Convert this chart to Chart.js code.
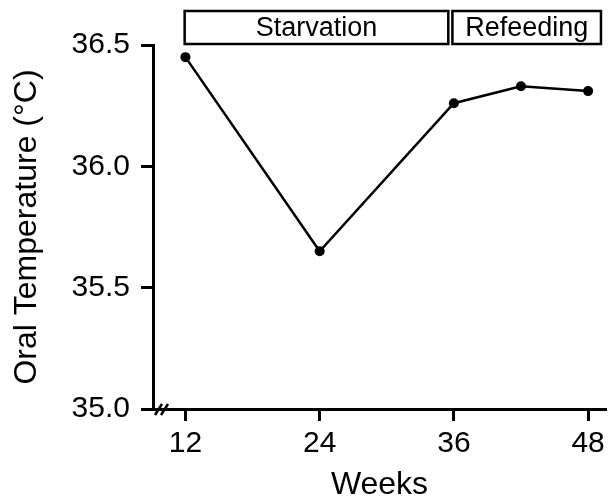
<!DOCTYPE html>
<html>
<head>
<meta charset="utf-8">
<script src="https://cdn.jsdelivr.net/npm/chart.js@4.4.1/dist/chart.umd.min.js"></script>
<style>
  html, body { margin: 0; padding: 0; background: #fff; }
  #wrap { width: 611px; height: 498px; }
</style>
</head>
<body>
<div id="wrap"><canvas id="tempChart" width="611" height="498"></canvas></div>
<script>
// data
var weeks = [12, 24, 36, 42, 48];
var oralTemp = [36.45, 35.65, 36.26, 36.33, 36.31];
var xTicks = [12, 24, 36, 48];
var yTicks = [35.0, 35.5, 36.0, 36.5];
var phaseNames = ['Starvation', 'Refeeding'];
var phaseStart = [11.93, 35.87];   // weeks
var phaseEnd = [35.5, 49.15];

var FONT = '"Liberation Sans", Arial, Helvetica, sans-serif';

// boxes above the plot + the axis break mark
var phaseBoxes = {
  id: 'phaseBoxes',
  afterDraw: function(chart) {
    var ctx = chart.ctx;
    var xs = chart.scales.x;
    var area = chart.chartArea;
    ctx.save();
    ctx.strokeStyle = '#000';
    ctx.lineWidth = 2.5;
    ctx.fillStyle = '#000';
    ctx.font = '27px ' + FONT;
    ctx.textAlign = 'center';
    ctx.textBaseline = 'middle';
    for (var i = 0; i < phaseNames.length; i++) {
      var x1 = xs.getPixelForValue(phaseStart[i]);
      var x2 = xs.getPixelForValue(phaseEnd[i]);
      var top = area.top - 34, h = 33;
      ctx.strokeRect(x1, top, x2 - x1, h);
      ctx.fillText(phaseNames[i], (x1 + x2) / 2, top + h / 2 + 1);
    }
    // axis break "//"
    var bx = area.left, by = area.bottom;
    ctx.lineWidth = 2.5;
    for (var k = 0; k < 2; k++) {
      ctx.beginPath();
      ctx.moveTo(bx + 2 + k * 6, by + 6);
      ctx.lineTo(bx + 9 + k * 6, by - 5);
      ctx.stroke();
    }
    ctx.restore();
  }
};

var ctx = document.getElementById('tempChart');

new Chart(ctx, {
  type: 'line',
  data: {
    datasets: [{
      label: 'Oral Temperature',
      data: weeks.map(function(w, i) { return { x: w, y: oralTemp[i] }; }),
      borderColor: '#000',
      backgroundColor: '#000',
      borderWidth: 2.5,
      pointRadius: 5,
      pointBackgroundColor: '#000',
      pointBorderWidth: 0,
      tension: 0,
      clip: false
    }]
  },
  options: {
    responsive: false,
    animation: false,
    events: [],
    layout: { padding: { top: 45, right: 0, left: 0, bottom: 0 } },
    plugins: {
      legend: { display: false },
      tooltip: { enabled: false }
    },
    scales: {
      x: {
        type: 'linear',
        min: 9.1,
        max: 49.6,
        afterBuildTicks: function(scale) {
          scale.ticks = xTicks.map(function(v) { return { value: v }; });
        },
        afterFit: function(scale) { scale.height = 89; },
        grid: {
          drawOnChartArea: false,
          drawTicks: true,
          tickLength: 12,
          tickWidth: 3,
          tickColor: '#000'
        },
        border: { display: true, color: '#000', width: 3 },
        ticks: {
          color: '#000',
          padding: 5,
          maxRotation: 0,
          font: { family: FONT, size: 30 }
        },
        title: {
          display: true,
          text: 'Weeks',
          color: '#000',
          font: { family: FONT, size: 32, lineHeight: 1 },
          padding: { top: 0, bottom: -3 }
        }
      },
      y: {
        min: 35.0,
        max: 36.5,
        afterBuildTicks: function(scale) {
          scale.ticks = yTicks.map(function(v) { return { value: v }; });
        },
        afterFit: function(scale) { scale.width = 153; },
        grid: {
          drawOnChartArea: false,
          drawTicks: true,
          tickLength: 12,
          tickWidth: 3,
          tickColor: '#000'
        },
        border: { display: true, color: '#000', width: 3 },
        ticks: {
          color: '#000',
          padding: 11,
          font: { family: FONT, size: 30 },
          callback: function(v) { return Number(v).toFixed(1); }
        },
        title: {
          display: true,
          text: 'Oral Temperature (°C)',
          color: '#000',
          font: { family: FONT, size: 32, lineHeight: 1 },
          padding: { top: 11, bottom: 0 }
        }
      }
    }
  },
  plugins: [phaseBoxes]
});
</script>
</body>
</html>
